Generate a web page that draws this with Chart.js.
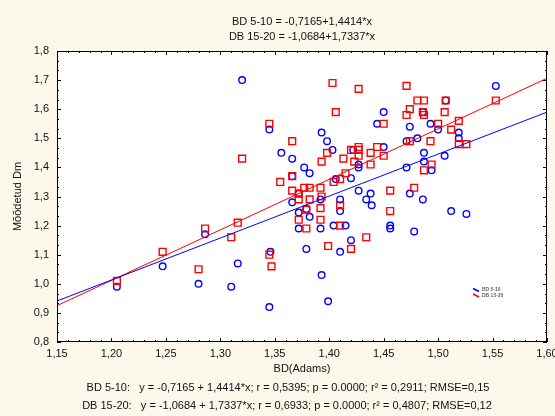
<!DOCTYPE html>
<html>
<head>
<meta charset="utf-8">
<script src="https://cdn.jsdelivr.net/npm/chart.js@4/dist/chart.umd.min.js"></script>
<style>
  html, body { margin: 0; padding: 0; background: #fdf8ec; }
  #wrap { width: 555px; height: 416px; }
</style>
</head>
<body>
<div id="wrap"><canvas id="chart" width="555" height="416"></canvas></div>
<script>
// BD 5-10 (blue circles)
const blueX = [1.205, 1.247, 1.286, 1.280, 1.310, 1.316, 1.320, 1.345, 1.346, 1.345,
  1.356, 1.366, 1.366, 1.366, 1.372, 1.372, 1.372, 1.377, 1.382, 1.379,
  1.382, 1.392, 1.392, 1.393, 1.398, 1.403, 1.393, 1.399, 1.404, 1.406,
  1.420, 1.410, 1.410, 1.415, 1.420, 1.422, 1.427, 1.427, 1.427, 1.434,
  1.438, 1.439, 1.444, 1.450, 1.450, 1.456, 1.456, 1.471, 1.471, 1.474,
  1.474, 1.478, 1.481, 1.486, 1.486, 1.487, 1.487, 1.493, 1.494, 1.500,
  1.506, 1.507, 1.512, 1.519, 1.519, 1.526, 1.553, 1.410, 1.379];
const blueY = [0.99, 1.06, 1.17, 1.00, 0.99, 1.07, 1.70, 1.53, 1.11, 0.92,
  1.45, 1.43, 1.37, 1.28, 1.31, 1.245, 1.19, 1.40, 1.38, 1.257,
  1.23, 1.29, 1.19, 1.52, 1.49, 1.46, 1.03, 0.94, 1.20, 1.36,
  1.363, 1.29, 1.25, 1.20, 1.15, 1.46, 1.41, 1.40, 1.32, 1.29,
  1.31, 1.27, 1.55, 1.59, 1.47, 1.20, 1.19, 1.49, 1.40, 1.54,
  1.31, 1.18, 1.50, 1.59, 1.29, 1.45, 1.42, 1.55, 1.39, 1.53,
  1.44, 1.63, 1.25, 1.52, 1.50, 1.24, 1.68, 1.11, 1.12];

// DB 15-20 (red squares)
const redX = [1.205, 1.247, 1.286, 1.280, 1.316, 1.310, 1.320, 1.345, 1.345, 1.347,
  1.355, 1.366, 1.366, 1.366, 1.372, 1.377, 1.382, 1.392, 1.393, 1.372,
  1.382, 1.379, 1.372, 1.392, 1.379, 1.410, 1.410, 1.392, 1.399, 1.420,
  1.434, 1.393, 1.398, 1.413, 1.420, 1.427, 1.427, 1.427, 1.423, 1.406,
  1.403, 1.427, 1.415, 1.410, 1.404, 1.438, 1.438, 1.444, 1.450, 1.450,
  1.456, 1.456, 1.478, 1.471, 1.481, 1.487, 1.507, 1.474, 1.471, 1.486,
  1.487, 1.506, 1.500, 1.512, 1.519, 1.519, 1.526, 1.474, 1.493, 1.494,
  1.487, 1.553];
const redY = [1.01, 1.11, 1.19, 1.05, 1.21, 1.16, 1.43, 1.55, 1.10, 1.06,
  1.35, 1.49, 1.37, 1.32, 1.31, 1.33, 1.33, 1.33, 1.30, 1.29,
  1.29, 1.255, 1.22, 1.22, 1.19, 1.20, 1.27, 1.26, 1.13, 1.12,
  1.16, 1.42, 1.45, 1.43, 1.46, 1.47, 1.46, 1.44, 1.42, 1.59,
  1.69, 1.67, 1.38, 1.36, 1.35, 1.45, 1.41, 1.47, 1.44, 1.55,
  1.32, 1.25, 1.33, 1.68, 1.63, 1.63, 1.63, 1.60, 1.58, 1.59,
  1.58, 1.59, 1.55, 1.53, 1.56, 1.48, 1.48, 1.49, 1.49, 1.41,
  1.39, 1.63];

// fitted lines, end points at the axis limits
const fitX = [1.15, 1.60];
const blueFitY = [0.941, 1.590];
const redFitY = [0.925, 1.706];

const titleLines = ['BD 5-10 = -0,7165+1,4414*x', 'DB 15-20 = -1,0684+1,7337*x'];
const footerLines = [
  'BD 5-10:   y = -0,7165 + 1,4414*x; r = 0,5395; p = 0.0000; r\u00B2 = 0,2911; RMSE=0,15',
  'DB 15-20:   y = -1,0684 + 1,7337*x; r = 0,6933; p = 0.0000; r\u00B2 = 0,4807; RMSE=0,12'
];
const legendNames = ['BD 5-10', 'DB 15-20'];

const FONT = '"Liberation Sans", Arial, sans-serif';
const BLUE = '#0000ff';
const RED = '#ff0000';

function pts(xs, ys) {
  return xs.map((x, i) => ({ x: x, y: ys[i] }));
}
function comma(v, d) {
  return Number(v).toFixed(d).replace('.', ',');
}

// cream page, white plot, frame with inward ticks, small legend, footer
const decor = {
  id: 'decor',
  beforeDraw(chart) {
    const c = chart.ctx, a = chart.chartArea;
    c.save();
    c.fillStyle = '#fdf8ec';
    c.fillRect(0, 0, chart.width, chart.height);
    c.fillStyle = '#ffffff';
    c.fillRect(a.left, a.top, a.right - a.left, a.bottom - a.top);
    c.restore();
  },
  afterDraw(chart) {
    const c = chart.ctx, a = chart.chartArea;
    const xs = chart.scales.x, ys = chart.scales.y;
    c.save();
    c.strokeStyle = '#000';
    c.lineWidth = 1;
    c.strokeRect(a.left + 0.5, a.top + 0.5, a.right - a.left - 1, a.bottom - a.top - 1);
    c.beginPath();
    for (let i = 0; i <= 45; i++) {
      const px = Math.round(xs.getPixelForValue(1.15 + i * 0.01)) + 0.5;
      const len = i % 5 === 0 ? 4 : 2;
      c.moveTo(px, a.bottom); c.lineTo(px, a.bottom - len);
      c.moveTo(px, a.top); c.lineTo(px, a.top + len);
    }
    for (let i = 0; i <= 30; i++) {
      const py = Math.round(ys.getPixelForValue(0.8 + i / 30)) + 0.5;
      const len = i % 3 === 0 ? 4 : 2;
      c.moveTo(a.left, py); c.lineTo(a.left + len, py);
      c.moveTo(a.right, py); c.lineTo(a.right - len, py);
    }
    c.stroke();

    // legend inside the plot
    const lx = a.left + 416, ly = a.top + 239;
    [BLUE, RED].forEach((col, i) => {
      const y = ly + i * 5.5;
      c.strokeStyle = col;
      c.lineWidth = 1.6;
      c.beginPath();
      c.moveTo(lx, y - 1.5);
      c.lineTo(lx + 6, y + 1.5);
      c.stroke();
      c.fillStyle = '#666';
      c.font = 'bold 5px ' + FONT;
      c.textBaseline = 'middle';
      c.textAlign = 'left';
      c.fillText(legendNames[i], lx + 9, y);
    });

    // footer with the regression statistics
    c.fillStyle = '#111';
    c.font = '11px ' + FONT;
    c.textAlign = 'center';
    c.textBaseline = 'middle';
    c.fillText(footerLines[0], 288, 388);
    c.fillText(footerLines[1], 287, 406);
    c.restore();
  }
};

new Chart(document.getElementById('chart'), {
  type: 'scatter',
  data: {
    datasets: [
      {
        label: legendNames[0] + ' fit',
        type: 'line',
        data: pts(fitX, blueFitY),
        borderColor: BLUE,
        borderWidth: 1,
        pointRadius: 0,
        fill: false,
        order: 0
      },
      {
        label: legendNames[1] + ' fit',
        type: 'line',
        data: pts(fitX, redFitY),
        borderColor: RED,
        borderWidth: 1,
        pointRadius: 0,
        fill: false,
        order: 0
      },
      {
        label: legendNames[0],
        data: pts(blueX, blueY),
        pointStyle: 'circle',
        pointRadius: 3.3,
        borderColor: BLUE,
        backgroundColor: 'rgba(0,0,0,0)',
        borderWidth: 1.4,
        order: 2
      },
      {
        label: legendNames[1],
        data: pts(redX, redY),
        pointStyle: 'rect',
        pointRadius: 4.8,
        borderColor: RED,
        backgroundColor: 'rgba(0,0,0,0)',
        borderWidth: 1.4,
        order: 1
      }
    ]
  },
  options: {
    responsive: false,
    animation: false,
    devicePixelRatio: 1,
    layout: { padding: { left: 0, right: 8, top: 0, bottom: 36.5 } },
    plugins: {
      legend: { display: false },
      tooltip: { enabled: false },
      title: {
        display: true,
        text: titleLines,
        fullSize: false,
        color: '#111',
        font: { family: FONT, size: 11, weight: 'normal', lineHeight: 15 / 11 },
        padding: { top: 14.5, bottom: 6.5 }
      }
    },
    scales: {
      x: {
        type: 'linear',
        min: 1.15,
        max: 1.60,
        grid: { display: false, drawTicks: false },
        border: { display: false },
        ticks: {
          stepSize: 0.05,
          padding: 5,
          color: '#111',
          font: { family: FONT, size: 11 },
          callback: v => comma(v, 2)
        },
        title: {
          display: true,
          text: 'BD(Adams)',
          color: '#111',
          font: { family: FONT, size: 11 },
          padding: { top: 0, bottom: 4 }
        },
        afterFit(scale) {
          scale.height = 37.5;
          scale.paddingRight = 0;
          scale.paddingLeft = 0;
        }
      },
      y: {
        type: 'linear',
        min: 0.8,
        max: 1.8,
        grid: { display: false, drawTicks: false },
        border: { display: false },
        ticks: {
          stepSize: 0.1,
          padding: 8,
          color: '#111',
          font: { family: FONT, size: 11 },
          callback: v => comma(v, 1)
        },
        title: {
          display: true,
          text: 'Mõõdetud Dm',
          color: '#111',
          font: { family: FONT, size: 11 },
          padding: { top: 11.4, bottom: 0 }
        },
        afterFit(scale) {
          scale.width = 57;
        }
      }
    }
  },
  plugins: [decor]
});
</script>
</body>
</html>
